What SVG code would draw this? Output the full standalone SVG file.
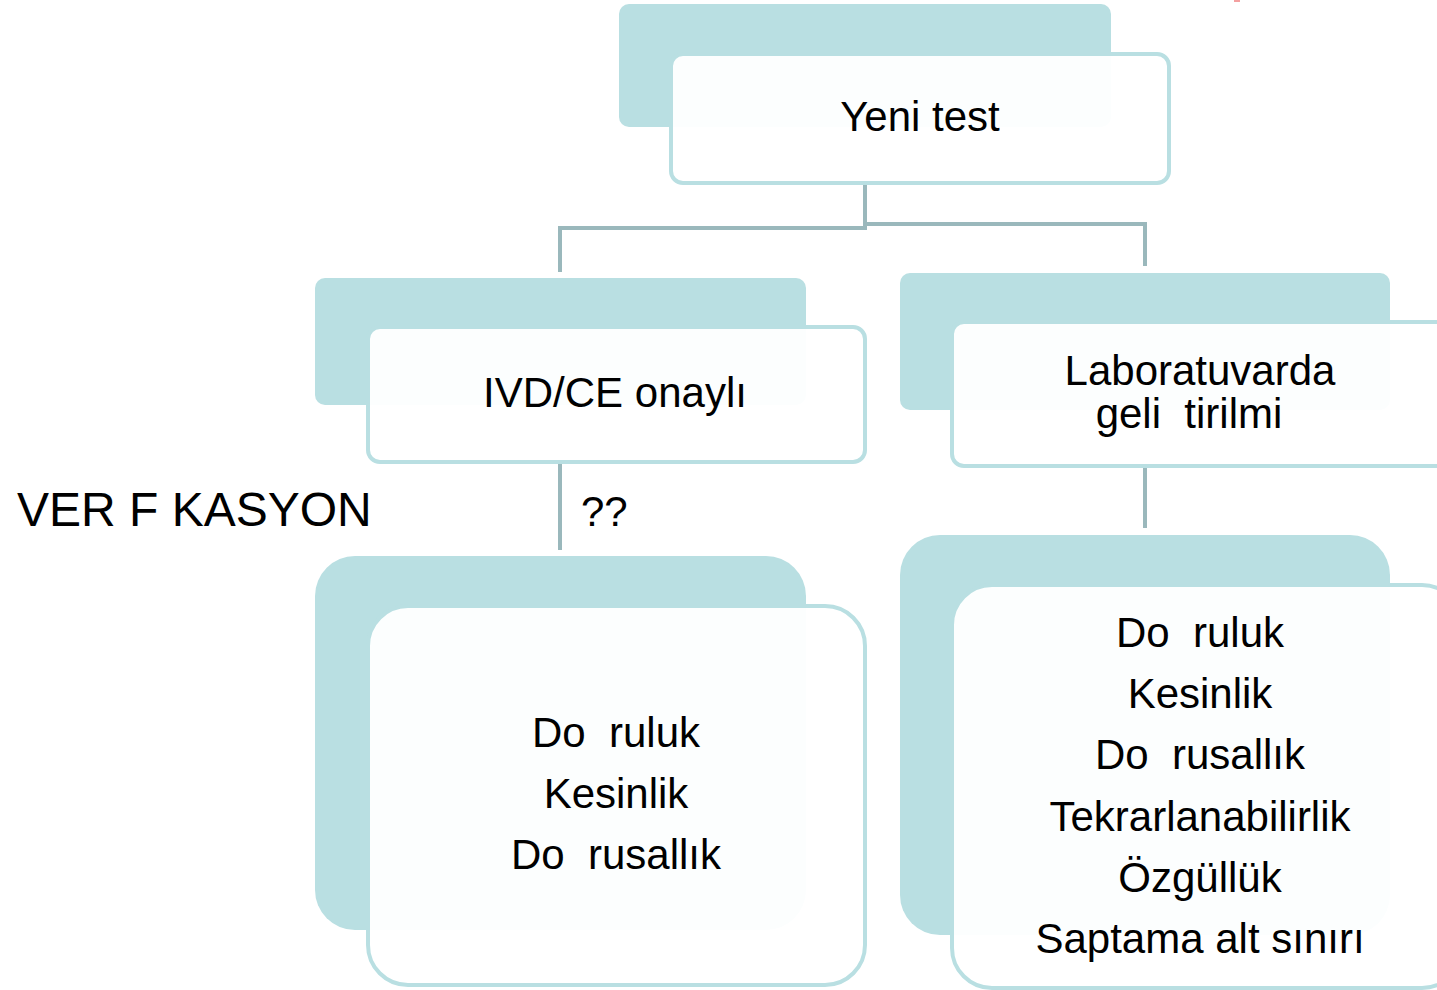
<svg xmlns="http://www.w3.org/2000/svg" width="1437" height="990" viewBox="0 0 1437 990">
<style>
.back{fill:#b9dfe2}
.front{fill:#ffffff;fill-opacity:0.95;stroke:#b9dfe2;stroke-width:4}
.t{font-family:"Liberation Sans",Arial,sans-serif;font-size:42px;fill:#000;text-anchor:middle;white-space:pre}
.conn{fill:none;stroke:#9ab8bc;stroke-width:4}
</style>
<rect width="1437" height="990" fill="#ffffff"/>
<rect x="1234" y="0" width="6" height="2" fill="#f4a0a0"/>
<g id="connectors">
<path class="conn" d="M865 184 V228 H560 V272"/>
<path class="conn" d="M865 224 H1145 V266"/>
<path class="conn" d="M560 462 V550"/>
<path class="conn" d="M1145 466 V528"/>
</g>
<g id="node-yeni-test">
<rect class="back" x="619" y="4" width="492" height="123" rx="10"/>
<rect class="front" x="671" y="54" width="498" height="129" rx="12"/>
<text class="t" x="920" y="131">Yeni test</text>
</g>
<g id="node-ivd">
<rect class="back" x="315" y="278" width="491" height="127" rx="10"/>
<rect class="front" x="368" y="327" width="497" height="135" rx="12"/>
<text class="t" x="615" y="407">IVD/CE onaylı</text>
</g>
<g id="node-lab">
<rect class="back" x="900" y="273" width="490" height="137" rx="10"/>
<rect class="front" x="952" y="322" width="500" height="144" rx="12"/>
<text class="t" x="1200" y="385">Laboratuvarda</text>
<text class="t" x="1189" y="428" xml:space="preserve">geli  tirilmi</text>
</g>
<g id="label-verifikasyon">
<text x="17" y="526" style="font-family:'Liberation Sans',Arial,sans-serif;font-size:48px;fill:#000">VER F KASYON</text>
</g>
<g id="label-qq">
<text x="581" y="526" style="font-family:'Liberation Sans',Arial,sans-serif;font-size:42px;fill:#000">??</text>
</g>
<g id="node-ivd-params">
<rect class="back" x="315" y="556" width="491" height="374" rx="40"/>
<rect class="front" x="368" y="606" width="497" height="379" rx="40"/>
<text class="t" x="616" y="747" xml:space="preserve">Do  ruluk</text>
<text class="t" x="616" y="808">Kesinlik</text>
<text class="t" x="616" y="869" xml:space="preserve">Do  rusallık</text>
</g>
<g id="node-lab-params">
<rect class="back" x="900" y="535" width="490" height="400" rx="40"/>
<rect class="front" x="952" y="585" width="510" height="403" rx="40"/>
<text class="t" x="1200" y="647" xml:space="preserve">Do  ruluk</text>
<text class="t" x="1200" y="708">Kesinlik</text>
<text class="t" x="1200" y="769" xml:space="preserve">Do  rusallık</text>
<text class="t" x="1200" y="831">Tekrarlanabilirlik</text>
<text class="t" x="1200" y="892">Özgüllük</text>
<text class="t" x="1200" y="953">Saptama alt sınırı</text>
</g>
</svg>
